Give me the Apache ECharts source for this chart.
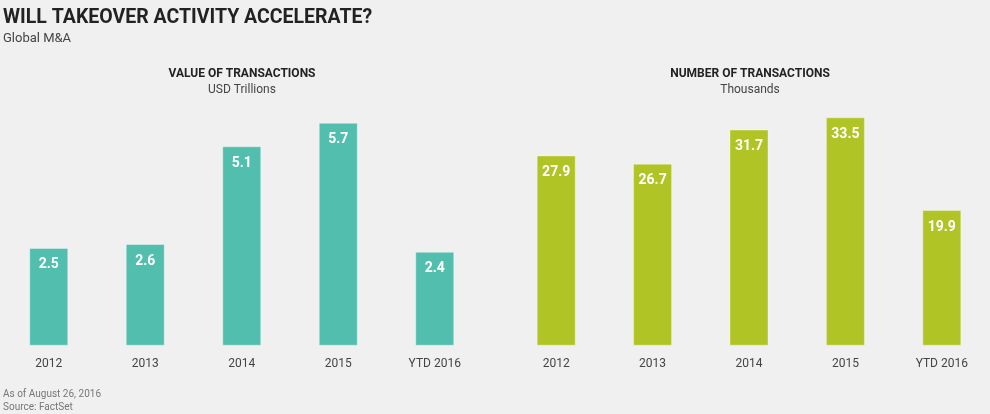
<!DOCTYPE html>
<html>
<head>
<meta charset="utf-8">
<title>Global M&amp;A</title>
<script src="https://cdn.jsdelivr.net/npm/echarts@6/dist/echarts.min.js"></script>
<style>
  html, body { margin: 0; padding: 0; background: #f0f0f0; }
  #main { width: 990px; height: 414px; }
</style>
</head>
<body>
<div id="main"></div>
<script type="text/javascript">
var years = ['2012', '2013', '2014', '2015', 'YTD 2016'];
var valueTrillions = [2.5, 2.6, 5.1, 5.7, 2.4];
var countThousands = [27.9, 26.7, 31.7, 33.5, 19.9];

var chart = echarts.init(document.getElementById('main'));
var font = 'Roboto';

function barSeries(idx, data, color) {
  return {
    type: 'bar',
    xAxisIndex: idx,
    yAxisIndex: idx,
    data: data,
    barWidth: 39,
    itemStyle: { color: color, borderColor: 'rgba(255,255,255,0.35)', borderWidth: 1 },
    label: {
      show: true,
      position: 'insideTop',
      distance: 10,
      color: '#fff',
      fontFamily: font,
      fontWeight: 'bold',
      fontSize: 14,
      formatter: function (p) { return p.value.toFixed(1); }
    }
  };
}

function catAxis(grid) {
  return {
    type: 'category',
    gridIndex: grid,
    data: years,
    axisLine: { show: false },
    axisTick: { show: false },
    axisLabel: { color: '#444', fontFamily: font, fontSize: 12, margin: 12 }
  };
}

function valAxis(grid, max) {
  return { type: 'value', gridIndex: grid, min: 0, max: max, show: false, splitLine: { show: false } };
}

var option = {
  backgroundColor: '#f0f0f0',
  animation: false,
  title: [
    { text: 'WILL TAKEOVER ACTIVITY ACCELERATE?', left: 3, top: 8, padding: 0,
      textStyle: { fontFamily: font, fontWeight: 'bold', fontSize: 19.5, color: '#222' } },
    { text: 'Global M&A', left: 3, top: 32, padding: 0,
      textStyle: { fontFamily: font, fontWeight: 'normal', fontSize: 13, color: '#444' } },
    { text: 'VALUE OF TRANSACTIONS', subtext: 'USD Trillions', left: 242, top: 68, padding: 0,
      textAlign: 'center', itemGap: 4,
      textStyle: { fontFamily: font, fontWeight: 'bold', fontSize: 12, color: '#222' },
      subtextStyle: { fontFamily: font, fontSize: 12, color: '#444' } },
    { text: 'NUMBER OF TRANSACTIONS', subtext: 'Thousands', left: 750, top: 68, padding: 0,
      textAlign: 'center', itemGap: 4,
      textStyle: { fontFamily: font, fontWeight: 'bold', fontSize: 12, color: '#222' },
      subtextStyle: { fontFamily: font, fontSize: 12, color: '#444' } },
    { text: 'As of August 26, 2016', subtext: 'Source: FactSet', left: 3, top: 389, padding: 0, itemGap: 3,
      textStyle: { fontFamily: font, fontWeight: 'normal', fontSize: 10, color: '#777' },
      subtextStyle: { fontFamily: font, fontSize: 10, color: '#777' } }
  ],
  grid: [
    { left: 0.5, width: 482.5, top: 117.3, height: 228.4 },
    { left: 508, width: 482.5, top: 117.3, height: 228.4 }
  ],
  xAxis: [catAxis(0), catAxis(1)],
  yAxis: [valAxis(0, 5.84), valAxis(1, 33.5)],
  series: [
    barSeries(0, valueTrillions, '#52bfae'),
    barSeries(1, countThousands, '#b1c425')
  ]
};

chart.setOption(option);
</script>
</body>
</html>
